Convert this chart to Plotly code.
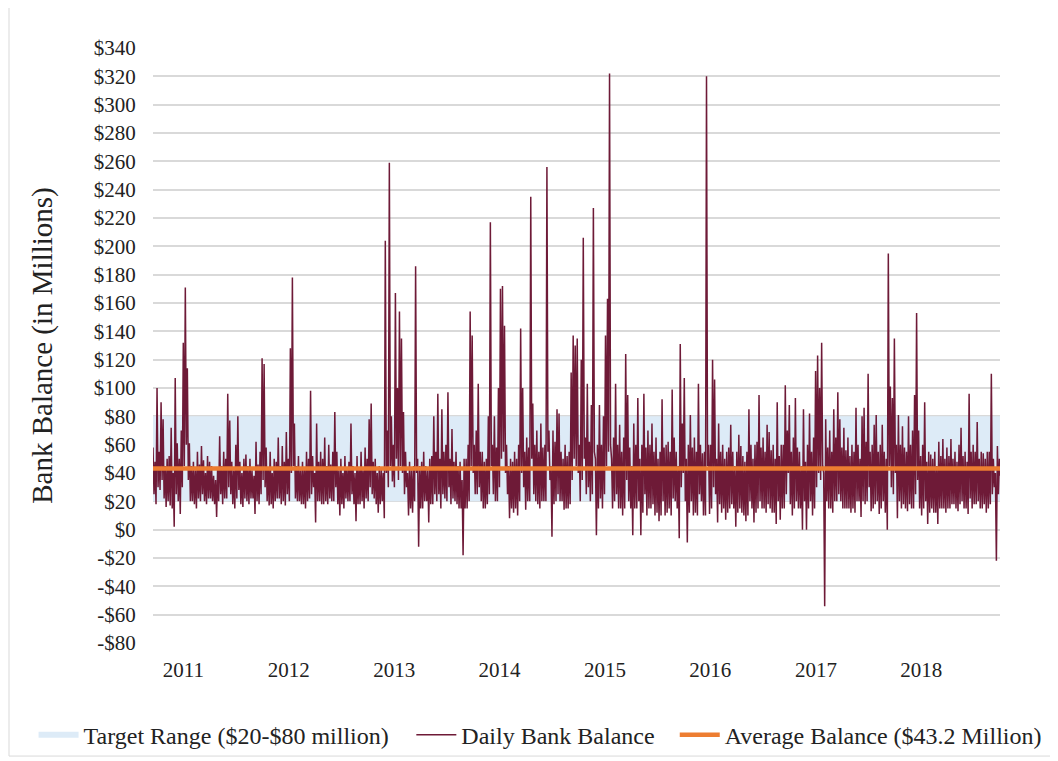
import pandas as pd
import plotly.graph_objects as go

# ---- data: weekly high and low of the daily balance ($ millions) ----
start_date = "2010-09-18"
week_high = [
    58, 48, 100, 55, 90, 78, 45, 50, 52, 72, 40, 107, 61, 50, 70, 132, 171, 114, 61, 45,
    48, 42, 55, 46, 59, 49, 40, 52, 48, 45, 38, 35, 44, 66, 45, 55, 50, 96, 77, 48,
    42, 60, 80, 48, 40, 50, 53, 45, 50, 42, 38, 62, 46, 55, 121, 117, 58, 44, 55, 40,
    50, 48, 65, 45, 59, 48, 69, 50, 128, 178, 75, 45, 52, 42, 48, 44, 55, 50, 98, 52,
    40, 75, 48, 55, 50, 65, 45, 60, 46, 55, 83, 55, 42, 50, 40, 52, 44, 48, 75, 45,
    40, 52, 44, 55, 42, 58, 50, 78, 89, 48, 50, 40, 45, 44, 40, 204, 70, 259, 80, 60,
    167, 100, 154, 135, 83, 55, 40, 48, 42, 45, 186, 50, 45, 48, 55, 45, 42, 50, 52, 80,
    55, 96, 50, 85, 55, 60, 97, 50, 71, 48, 55, 45, 48, 35, 50, 50, 60, 154, 137, 60,
    70, 103, 55, 55, 48, 50, 80, 217, 60, 80, 58, 100, 170, 172, 144, 60, 45, 50, 48, 55,
    50, 60, 142, 100, 55, 65, 58, 235, 89, 60, 70, 55, 75, 58, 60, 256, 70, 45, 70, 62,
    85, 82, 55, 50, 60, 52, 55, 111, 137, 130, 135, 60, 120, 206, 65, 103, 62, 88, 227, 50,
    60, 88, 60, 80, 137, 163, 322, 50, 65, 103, 60, 74, 55, 65, 124, 95, 58, 45, 75, 60,
    93, 50, 60, 96, 58, 70, 60, 75, 55, 65, 50, 55, 92, 58, 60, 62, 55, 99, 65, 55,
    45, 131, 75, 107, 50, 60, 81, 58, 65, 55, 103, 60, 54, 55, 320, 60, 60, 120, 106, 50,
    75, 55, 60, 50, 55, 58, 74, 55, 45, 55, 67, 59, 52, 48, 55, 85, 60, 50, 60, 62,
    95, 58, 65, 55, 74, 69, 56, 60, 50, 90, 52, 60, 60, 102, 70, 88, 55, 65, 93, 58,
    55, 45, 85, 48, 60, 82, 55, 65, 112, 123, 100, 132, 40, 78, 58, 70, 55, 85, 65, 97,
    78, 58, 72, 56, 65, 52, 60, 55, 86, 60, 50, 80, 86, 62, 110, 55, 60, 74, 81, 55,
    60, 74, 55, 50, 195, 101, 93, 135, 60, 81, 60, 73, 58, 55, 80, 60, 70, 95, 153, 70,
    52, 60, 90, 48, 55, 53, 50, 55, 45, 62, 52, 64, 50, 58, 52, 64, 50, 55, 48, 60,
    72, 52, 55, 48, 96, 55, 60, 55, 76, 50, 55, 54, 50, 55, 55, 110, 50, 40, 59, 50,
]
week_low = [
    25, 18, 30, 28, 35, 22, 16, 20, 17, 15, 2, 25, 20, 11, 30, 45, 60, 35, 20, 20,
    18, 15, 22, 20, 25, 20, 18, 22, 22, 20, 18, 9, 20, 25, 18, 22, 22, 30, 25, 18,
    15, 22, 28, 18, 16, 22, 20, 18, 22, 22, 11, 20, 18, 25, 35, 30, 20, 17, 18, 15,
    20, 22, 22, 18, 20, 17, 25, 20, 40, 45, 22, 20, 20, 18, 18, 15, 20, 22, 25, 30,
    5, 20, 20, 18, 18, 20, 18, 22, 20, 20, 30, 18, 10, 18, 15, 22, 20, 20, 25, 18,
    6, 18, 18, 20, 15, 22, 20, 30, 25, 22, 18, 12, 18, 20, 8, 40, 30, 45, 34, 30,
    50, 35, 45, 40, 25, 30, 10, 15, 12, 20, 40, -12, 15, 15, 20, 20, 5, 18, 18, 25,
    20, 25, 15, 25, 22, 20, 30, 18, 22, 20, 18, 15, 15, -18, 15, 15, 20, 45, 40, 25,
    25, 30, 20, 15, 15, 18, 25, 45, 25, 20, 20, 30, 50, 55, 40, 25, 8, 15, 12, 15,
    10, 20, 40, 30, 14, 20, 20, 50, 25, 20, 18, 15, 20, 20, 20, 55, 35, -5, 18, 20,
    25, 20, 20, 14, 15, 15, 18, 35, 50, 45, 40, 20, 35, 50, 25, 30, 20, 25, 55, -4,
    15, 22, 15, 25, 45, 55, 60, 15, 20, 25, 15, 15, 10, 15, 35, 20, 15, -4, 15, 15,
    20, -4, 12, 25, 10, 15, 15, 18, 10, 12, 6, 10, 20, 10, 12, 15, 10, 22, 20, 15,
    -6, 30, 40, 20, -9, 12, 20, 10, 12, 10, 25, 20, 10, 10, 45, 11, 15, 30, 25, 5,
    18, 12, 15, 7, 12, 15, 18, 15, 2, 12, 15, 12, 10, 6, 10, 20, 15, 5, 12, 15,
    20, 15, 15, 12, 18, 15, 12, 12, 4, 20, 7, 15, 15, 25, 40, 18, 10, 15, 20, 15,
    15, 0, 20, 0, 15, 20, 10, 15, 30, 40, 35, 45, -54, 20, 15, 15, 12, 20, 20, 25,
    20, 15, 15, 15, 15, 12, 15, 12, 20, 20, 9, 20, 18, 20, 30, 13, 15, 18, 20, 11,
    15, 20, 12, 0, 45, 30, 25, 40, 8, 20, 15, 18, 15, 13, 18, 15, 15, 25, 35, 15,
    10, 15, 20, 4, 12, 15, 12, 12, 4, 15, 15, 15, 12, 15, 15, 18, 18, 15, 13, 18,
    20, 15, 15, 11, 22, 15, 18, 18, 20, 15, 15, 18, 12, 15, 18, 25, 30, -22, 25, 38,
]
assert len(week_high) == len(week_low), (len(week_high), len(week_low))

average_balance = 43.2
target_low, target_high = 20, 80
x_start, x_end = "2010-09-18", "2018-10-01"

year_ticks = ["2011-01-01", "2012-01-01", "2013-01-01", "2014-01-01",
              "2015-01-01", "2016-01-01", "2017-01-01", "2018-01-01"]
year_labels = ["2011", "2012", "2013", "2014", "2015", "2016", "2017", "2018"]
y_ticks = list(range(-80, 341, 20))
y_labels = [("-$" if v < 0 else "$") + str(abs(v)) for v in y_ticks]

# interleave each week's high (start of week) and low (mid-week)
weeks = pd.date_range(start_date, periods=len(week_high), freq="7D")
xs, ys = [], []
for d, hi, lo in zip(weeks, week_high, week_low):
    xs += [d, d + pd.Timedelta(hours=84)]
    ys += [hi, lo]

FONT = "Liberation Serif, Times New Roman, serif"

fig = go.Figure()
fig.add_trace(go.Scatter(
    x=[x_start, x_end, x_end, x_start], y=[target_low, target_low, target_high, target_high],
    fill="toself", fillcolor="#DDEBF7", mode="none", legend="legend",
    name="Target Range ($20-$80 million)", hoverinfo="skip"))
fig.add_trace(go.Scatter(
    x=xs, y=ys, mode="lines", line=dict(color="#6E1A37", width=1.5, simplify=False),
    legend="legend2", name="Daily Bank Balance"))
fig.add_trace(go.Scatter(
    x=[x_start, x_end], y=[average_balance, average_balance], mode="lines",
    line=dict(color="#ED7D31", width=4.5), legend="legend3",
    name="Average Balance ($43.2 Million)"))


def leg(x):
    return dict(orientation="h", x=x, xanchor="left", y=-0.155, yanchor="middle",
                bgcolor="rgba(0,0,0,0)", font=dict(family=FONT, size=24, color="#222"),
                itemwidth=40, tracegroupgap=0)


fig.update_layout(
    width=1050, height=753,
    margin=dict(l=145, r=58, t=40, b=118, autoexpand=False),
    paper_bgcolor="white", plot_bgcolor="white",
    font=dict(family=FONT, size=21, color="#222"),
    showlegend=True,
    legend=leg(-0.141), legend2=leg(0.305), legend3=leg(0.616),
    xaxis=dict(type="date", range=[x_start, x_end], tickvals=year_ticks, ticktext=year_labels,
               showgrid=False, zeroline=False, showline=False,
               ticks="outside", ticklen=8, tickcolor="rgba(0,0,0,0)",
               tickfont=dict(family=FONT, size=21)),
    yaxis=dict(range=[-80, 340], tickvals=y_ticks, ticktext=y_labels,
               showgrid=True, gridcolor="#D9D9D9", gridwidth=1.5, zeroline=False,
               ticks="outside", ticklen=12, tickcolor="rgba(0,0,0,0)",
               tickfont=dict(family=FONT, size=21),
               title=dict(text="Bank Balance (in Millions)", font=dict(family=FONT, size=29),
                          standoff=32)),
    shapes=[dict(type="rect", xref="paper", yref="paper",
                 x0=-0.17, x1=1.2, y0=-0.19, y1=1.2,
                 line=dict(color="#D9D9D9", width=1), layer="below")],
)

fig.write_html("out.html")
